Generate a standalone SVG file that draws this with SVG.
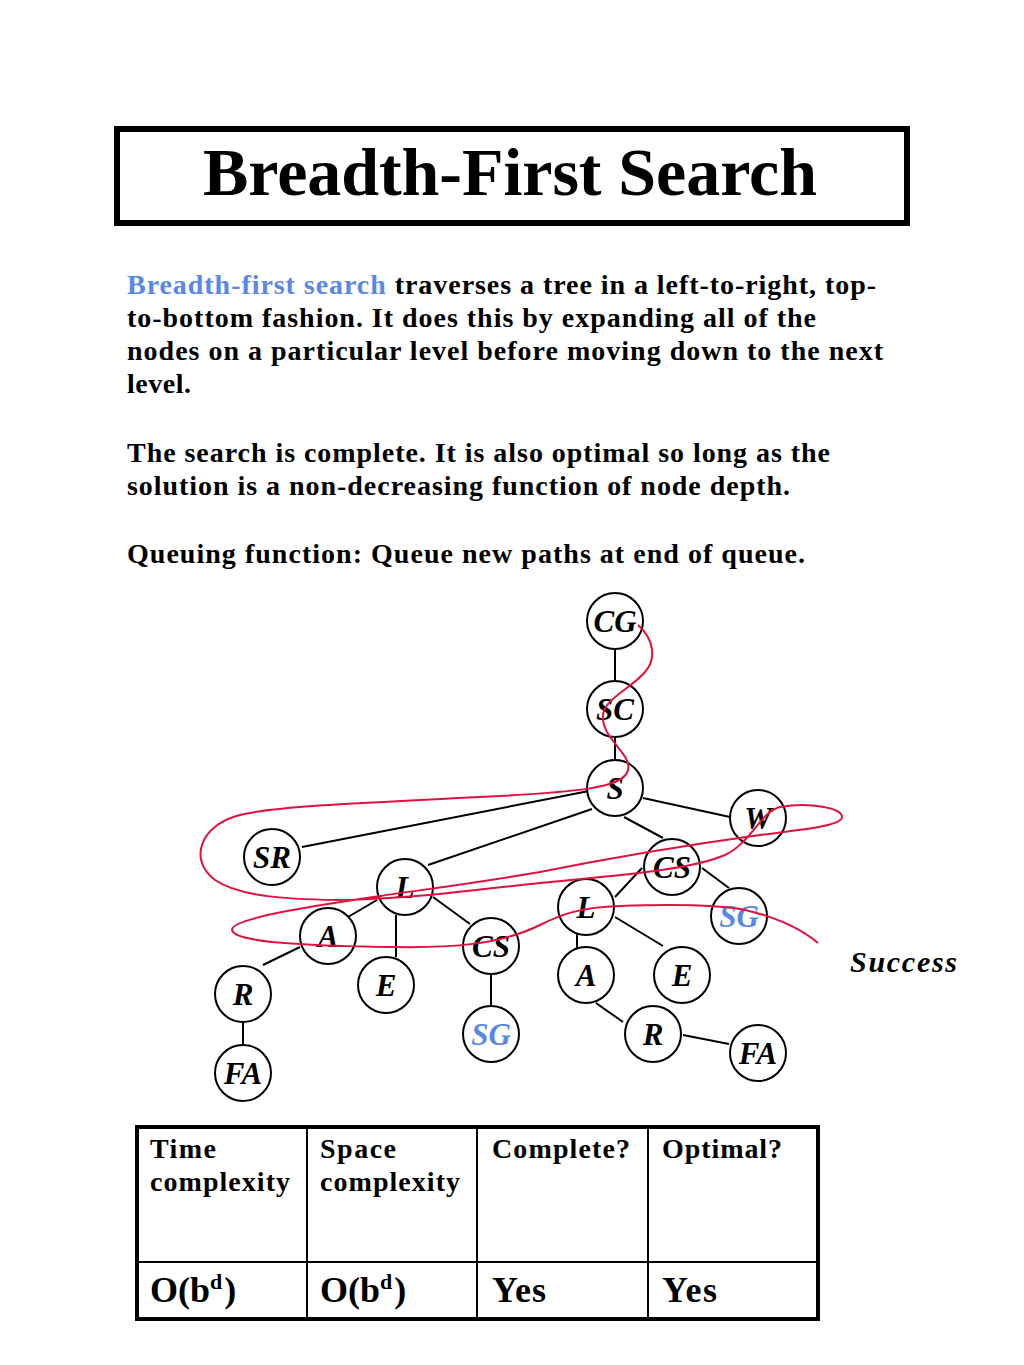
<svg xmlns="http://www.w3.org/2000/svg" width="1024" height="1365" viewBox="0 0 1024 1365">
<style>
.t{font-family:"Liberation Serif","Times New Roman",serif;font-weight:bold;fill:#000}
.p{font-size:28px}
.b{fill:#5b87e6}
.n circle{fill:#fff;stroke:#000;stroke-width:2}
.n text{font-family:"Liberation Serif","Times New Roman",serif;font-weight:bold;font-style:italic;font-size:31px;text-anchor:middle;fill:#000}
.n text.g{fill:#5b87e6}
.e line{stroke:#000;stroke-width:2}
</style>
<rect width="1024" height="1365" fill="#fff"/>
<rect x="117" y="129" width="790" height="94" fill="none" stroke="#000" stroke-width="6"/>
<text class="t" x="203" y="195" font-size="68" textLength="614">Breadth-First Search</text>
<g class="t p">
<text x="127" y="294" textLength="749"><tspan class="b">Breadth-first search</tspan> traverses a tree in a left-to-right, top-</text>
<text x="127" y="327" textLength="689">to-bottom fashion. It does this by expanding all of the</text>
<text x="127" y="360" textLength="756">nodes on a particular level before moving down to the next</text>
<text x="127" y="393" textLength="64">level.</text>
<text x="127" y="462" textLength="703">The search is complete. It is also optimal so long as the</text>
<text x="127" y="495" textLength="663">solution is a non-decreasing function of node depth.</text>
<text x="127" y="563" textLength="678">Queuing function: Queue new paths at end of queue.</text>
</g>
<g id="connectors" class="e">
<line x1="615" y1="649" x2="615" y2="681"/>
<line x1="615" y1="737" x2="615" y2="760"/>
<line x1="589" y1="791" x2="302" y2="847"/>
<line x1="592" y1="809" x2="428" y2="865"/>
<line x1="624" y1="817" x2="663" y2="838"/>
<line x1="643" y1="798" x2="730" y2="817"/>
<line x1="377" y1="900" x2="348" y2="917"/>
<line x1="396" y1="915" x2="396" y2="957"/>
<line x1="433" y1="897" x2="470" y2="924"/>
<line x1="300" y1="947" x2="263" y2="965"/>
<line x1="243" y1="1022" x2="243" y2="1045"/>
<line x1="491" y1="974" x2="491" y2="1006"/>
<line x1="642" y1="868" x2="615" y2="897"/>
<line x1="702" y1="868" x2="729" y2="888"/>
<line x1="577" y1="934" x2="577" y2="948"/>
<line x1="615" y1="917" x2="663" y2="946"/>
<line x1="596" y1="1003" x2="623" y2="1022"/>
<line x1="683" y1="1035" x2="729" y2="1044"/>
</g>
<g id="nodes" class="n">
<g id="n-CG"><circle cx="615" cy="621" r="28"/><text x="615" y="632">CG</text></g>
<g id="n-SC"><circle cx="615" cy="709" r="28"/><text x="615" y="720">SC</text></g>
<g id="n-S"><circle cx="615" cy="788" r="28"/><text x="615" y="799">S</text></g>
<g id="n-W"><circle cx="758" cy="818" r="28"/><text x="758" y="829">W</text></g>
<g id="n-SR"><circle cx="272" cy="857" r="28"/><text x="272" y="868">SR</text></g>
<g id="n-L1"><circle cx="405" cy="887" r="28"/><text x="405" y="898">L</text></g>
<g id="n-A1"><circle cx="328" cy="936" r="28"/><text x="328" y="947">A</text></g>
<g id="n-CS1"><circle cx="491" cy="946" r="28"/><text x="491" y="957">CS</text></g>
<g id="n-E1"><circle cx="386" cy="985" r="28"/><text x="386" y="996">E</text></g>
<g id="n-R1"><circle cx="243" cy="994" r="28"/><text x="243" y="1005">R</text></g>
<g id="n-FA1"><circle cx="243" cy="1073" r="28"/><text x="243" y="1084">FA</text></g>
<g id="n-SG1"><circle cx="491" cy="1034" r="28"/><text class="g" x="491" y="1045">SG</text></g>
<g id="n-CS2"><circle cx="672" cy="867" r="28"/><text x="672" y="878">CS</text></g>
<g id="n-L2"><circle cx="586" cy="907" r="28"/><text x="586" y="918">L</text></g>
<g id="n-SG2"><circle cx="739" cy="916" r="28"/><text class="g" x="739" y="927">SG</text></g>
<g id="n-A2"><circle cx="586" cy="975" r="28"/><text x="586" y="986">A</text></g>
<g id="n-E2"><circle cx="682" cy="975" r="28"/><text x="682" y="986">E</text></g>
<g id="n-R2"><circle cx="653" cy="1034" r="28"/><text x="653" y="1045">R</text></g>
<g id="n-FA2"><circle cx="758" cy="1053" r="28"/><text x="758" y="1064">FA</text></g>
</g>
<path id="trace" fill="none" stroke="#e0103f" stroke-width="2" d="M638,625 C655,640 656,660 645,672 C630,690 600,700 603,720 C605,740 632,755 628,770 C624,788 580,792 480,797 C380,802 275,806 240,815 C200,825 188,860 215,880 C240,897 290,900 350,900 C420,898 470,890 540,883 C620,875 690,870 725,855 C752,842 760,812 780,807 C810,802 842,808 842,817 C842,826 800,830 760,835 C680,846 600,860 540,872 C470,884 420,890 380,896 C320,905 230,918 232,930 C234,942 300,946 393,947 C450,948 500,945 540,925 C560,915 580,907 620,906 C680,904 720,905 745,910 C775,917 800,928 818,943"/>
<text x="850" y="972" font-family="Liberation Serif,Times New Roman,serif" font-weight="bold" font-style="italic" font-size="30" textLength="107">Success</text>
<g id="table">
<rect x="137" y="1127" width="681" height="192" fill="none" stroke="#000" stroke-width="4"/>
<line x1="307" y1="1127" x2="307" y2="1319" stroke="#000" stroke-width="2"/>
<line x1="477" y1="1127" x2="477" y2="1319" stroke="#000" stroke-width="2"/>
<line x1="648" y1="1127" x2="648" y2="1319" stroke="#000" stroke-width="2"/>
<line x1="137" y1="1262" x2="818" y2="1262" stroke="#000" stroke-width="2"/>
<g class="t" font-size="28">
<text x="150" y="1158" textLength="66">Time</text>
<text x="150" y="1191" textLength="140">complexity</text>
<text x="320" y="1158" textLength="76">Space</text>
<text x="320" y="1191" textLength="140">complexity</text>
<text x="492" y="1158" textLength="138">Complete?</text>
<text x="662" y="1158" textLength="120">Optimal?</text>
</g>
<g class="t" font-size="36">
<text x="150" y="1302">O(b<tspan font-size="22" dy="-13">d</tspan><tspan dx="2" dy="13">)</tspan></text>
<text x="320" y="1302">O(b<tspan font-size="22" dy="-13">d</tspan><tspan dx="2" dy="13">)</tspan></text>
<text x="492" y="1302" textLength="54">Yes</text>
<text x="662" y="1302" textLength="55">Yes</text>
</g>
</g>
</svg>
